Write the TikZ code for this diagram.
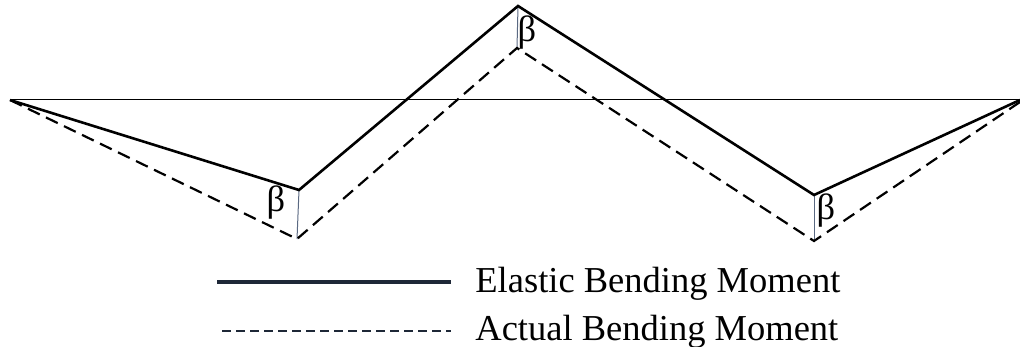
\documentclass[tikz,border=0pt]{standalone}
\usepackage{fontspec}
\setmainfont{Liberation Serif}
\begin{document}
\begin{tikzpicture}[x=0.5pt,y=-0.5pt,
  thick line/.style={line width=1.3pt, black},
  dash line/.style={line width=1.1pt, black, dash pattern=on 6.5pt off 3.5pt},
  axisline/.style={line width=0.5pt, black},
  betaline/.style={line width=0.5pt, color={rgb,255:red,90;green,105;blue,130}},
  lbl/.style={inner sep=0pt, font=\fontsize{18.25}{20}\selectfont},
  legline/.style={line width=1.6pt, color={rgb,255:red,30;green,40;blue,55}},
  legdash/.style={line width=1.3pt, color={rgb,255:red,30;green,40;blue,55}, dash pattern=on 4.5pt off 2.5pt}]
\useasboundingbox (0,0) rectangle (1020,347);
% points
\coordinate (L) at (10,100);
\coordinate (R) at (1020,100);
\coordinate (Rd) at (1020,102);
\coordinate (E1) at (299,190);
\coordinate (A1) at (297,239);
\coordinate (E2) at (518,6);
\coordinate (A2) at (517,48);
\coordinate (E3) at (814,195);
\coordinate (A3) at (814,241);
% axis
\draw[axisline] (L) -- (R);
% beta offsets
\draw[betaline] (E1) -- (A1);
\draw[betaline] (E2) -- (A2);
\draw[betaline] (E3) -- (A3);
% elastic moment
\draw[thick line, line join=miter] (L) -- (E1) -- (E2) -- (E3) -- (R);
% actual moment
\draw[dash line] (L) -- (A1) -- (A2) -- (A3) -- (Rd);
% beta labels
\node[lbl] (b1) at (276,203) {β};
\node[lbl] (b2) at (527,33) {β};
\node[lbl] (b3) at (826,211) {β};
% legend
\coordinate (l1a) at (217,282);
\coordinate (l1b) at (451,282);
\coordinate (l2a) at (222,331);
\coordinate (l2b) at (451,331);
\draw[legline] (l1a) -- (l1b);
\draw[legdash] (l2a) -- (l2b);
\node[lbl, anchor=base west] (t1) at (475,292) {Elastic Bending Moment};
\node[lbl, anchor=base west] (t2) at (475,340) {Actual Bending Moment};
\end{tikzpicture}
\end{document}
